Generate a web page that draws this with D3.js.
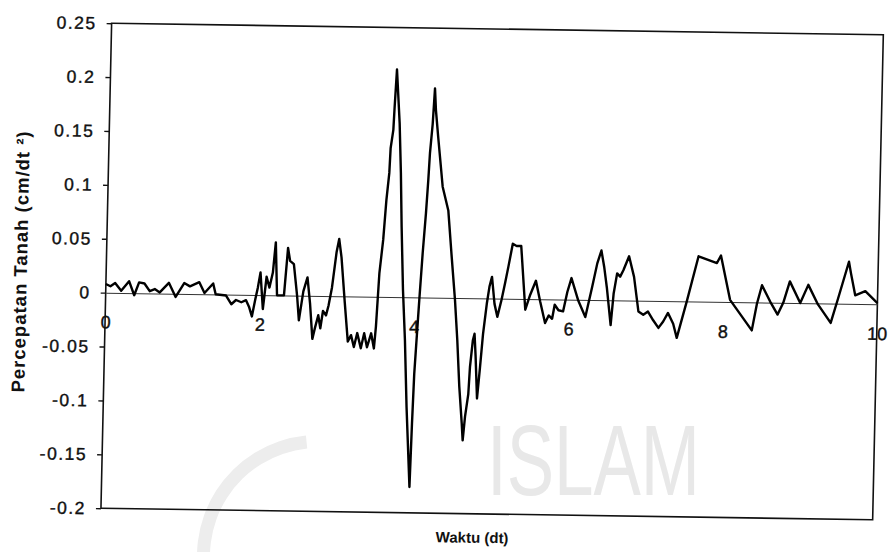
<!DOCTYPE html>
<html>
<head>
<meta charset="utf-8">
<script src="https://cdn.jsdelivr.net/npm/d3@7"></script>
<style>
  body { margin: 0; background: #fff; }
  svg { display: block; }
</style>
</head>
<body>
<svg id="chart" width="888" height="552"></svg>
<script>
// time (dt) and ground acceleration
const timeValues = [
  0, 0.06, 0.12, 0.20, 0.30, 0.37, 0.43, 0.50, 0.57, 0.635,
  0.70, 0.816, 0.907, 1.015, 1.09, 1.21, 1.28, 1.39, 1.425, 1.56,
  1.63, 1.69, 1.76, 1.82, 1.86, 1.90, 1.94, 1.97, 2.00, 2.04,
  2.08, 2.12, 2.16, 2.19, 2.22, 2.31, 2.35, 2.38, 2.43, 2.48,
  2.51, 2.56, 2.61, 2.65, 2.69, 2.72, 2.76, 2.79, 2.82, 2.86,
  2.89, 2.93, 2.98, 3.01, 3.045, 3.10, 3.15, 3.19, 3.23, 3.27,
  3.32, 3.36, 3.40, 3.45, 3.49, 3.51, 3.54, 3.58, 3.61, 3.64,
  3.65, 3.68, 3.69, 3.71, 3.76, 3.79, 3.815, 3.85, 3.89, 3.93,
  3.99, 4.005, 4.02, 4.04, 4.064, 4.095, 4.126, 4.147, 4.161, 4.188,
  4.208, 4.226, 4.263, 4.335, 4.415, 4.472, 4.527, 4.568, 4.607, 4.649,
  4.666, 4.69, 4.726, 4.74, 4.77, 4.79, 4.81, 4.84, 4.87, 4.90,
  4.94, 4.97, 5.00, 5.04, 5.08, 5.13, 5.17, 5.21, 5.26, 5.31,
  5.37, 5.44, 5.50, 5.57, 5.63, 5.70, 5.745, 5.79, 5.82, 5.87,
  5.93, 5.98, 6.03, 6.125, 6.22, 6.30, 6.36, 6.41, 6.45, 6.49,
  6.55, 6.58, 6.62, 6.66, 6.70, 6.77, 6.84, 6.906, 6.97, 7.03,
  7.10, 7.17, 7.23, 7.29, 7.36, 7.41, 7.53, 7.67, 7.91, 7.96,
  8.09, 8.38, 8.44, 8.50, 8.61, 8.71, 8.78, 8.86, 9.00, 9.10,
  9.23, 9.40, 9.49, 9.62, 9.65, 9.71, 9.84, 10.0
];
const accelValues = [
  0.008, 0.006, 0.009, 0.002, 0.011, -0.002, 0.010, 0.009, 0.002, 0.004,
  0.001, 0.010, -0.003, 0.010, 0.007, 0.011, 0.001, 0.010, 0.000, -0.001,
  -0.009, -0.005, -0.007, -0.005, -0.011, -0.020, -0.004, 0.007, 0.021, -0.013,
  0.017, 0.007, 0.021, 0.049, 0.000, 0.000, 0.044, 0.032, 0.029, 0.000,
  -0.023, 0.004, 0.017, -0.007, -0.040, -0.030, -0.018, -0.030, -0.014, -0.018,
  -0.009, 0.008, 0.041, 0.053, 0.036, -0.006, -0.042, -0.036, -0.047, -0.034,
  -0.048, -0.034, -0.047, -0.034, -0.048, -0.028, 0.022, 0.053, 0.090, 0.115,
  0.138, 0.155, 0.176, 0.211, 0.161, 0.115, 0.065, 0.007, -0.040, -0.102,
  -0.176, -0.117, -0.071, -0.040, -0.003, 0.041, 0.078, 0.109, 0.134, 0.161,
  0.194, 0.174, 0.149, 0.103, 0.081, 0.038, -0.002, -0.039, -0.082, -0.116,
  -0.132, -0.110, -0.089, -0.064, -0.039, -0.033, -0.054, -0.093, -0.064, -0.033,
  -0.005, 0.011, 0.020, -0.005, -0.017, -0.001, 0.014, 0.030, 0.051, 0.049,
  0.049, -0.010, 0.004, 0.017, -0.002, -0.022, -0.015, -0.018, -0.005, -0.010,
  -0.011, 0.007, 0.020, -0.001, -0.016, 0.012, 0.034, 0.046, 0.031, 0.012,
  -0.023, 0.006, 0.025, 0.022, 0.028, 0.041, 0.022, -0.010, -0.013, -0.010,
  -0.018, -0.025, -0.019, -0.011, -0.021, -0.034, 0.000, 0.042, 0.036, 0.043,
  0.002, -0.026, -0.001, 0.016, 0.001, -0.011, 0.000, 0.020, 0.000, 0.017,
  -0.001, -0.018, 0.005, 0.039, 0.028, 0.008, 0.012, 0.001
];
const yTickValues = [-0.2, -0.15, -0.1, -0.05, 0, 0.05, 0.1, 0.15, 0.2, 0.25];
const xTickValues = [0, 2, 4, 6, 8, 10];
const xTitle = "Waktu (dt)";
const yTitle = "Percepatan Tanah (cm/dt ²)";
const watermarkText = "ISLAM";

const plotLeft = 106.3, plotRight = 878, plotTop = 29, plotBottom = 514;
const font = "'Liberation Sans', Arial, sans-serif";

const svg = d3.select("#chart");

// faint watermark of the scanned page
const wm = svg.append("g").attr("fill", "#e8e8e8");
wm.append("text")
    .attr("x", 487)
    .attr("y", 495)
    .attr("font-family", font)
    .attr("font-size", 100)
    .attr("textLength", 213)
    .attr("lengthAdjust", "spacingAndGlyphs")
    .text(watermarkText);
wm.append("path")
    .attr("transform", "translate(318,556)")
    .attr("fill", "#ededed")
    .attr("d", d3.arc().innerRadius(108).outerRadius(121).startAngle(-1.9).endAngle(-0.1)());

// the scan is slightly skewed, so the whole chart gets the same skew
const g = svg.append("g")
    .attr("transform", "matrix(1,0.015,-0.022,1,5.96,-7.38)");

const xScale = d3.scaleLinear().domain([0, 10]).range([plotLeft, plotRight]);
const yScale = d3.scaleLinear().domain([-0.2, 0.25]).range([plotBottom, plotTop]);

g.append("rect")
    .attr("x", plotLeft)
    .attr("y", plotTop)
    .attr("width", plotRight - plotLeft)
    .attr("height", plotBottom - plotTop)
    .attr("fill", "none")
    .attr("stroke", "#111")
    .attr("stroke-width", 1.6);

const yAxis = d3.axisLeft(yScale)
    .tickValues(yTickValues)
    .tickSize(5)
    .tickPadding(10)
    .tickFormat(d => String(+d.toFixed(2)));

const yAxisG = g.append("g")
    .attr("transform", `translate(${plotLeft},0)`)
    .call(yAxis);
yAxisG.select(".domain").remove();
yAxisG.selectAll(".tick line").attr("stroke", "#111").attr("stroke-width", 1.4);
yAxisG.selectAll(".tick text")
    .attr("font-family", font)
    .attr("font-size", 17.5)
    .attr("letter-spacing", 1.5)
    .attr("fill", "#111")
    .attr("stroke", "#111")
    .attr("stroke-width", 0.4);

const xAxis = d3.axisBottom(xScale)
    .tickValues(xTickValues)
    .tickSize(0)
    .tickSizeOuter(0)
    .tickPadding(23)
    .tickFormat(d => String(d));

const xAxisG = g.append("g")
    .attr("transform", `translate(0,${yScale(0)})`)
    .call(xAxis);
xAxisG.select(".domain").attr("stroke", "#333").attr("stroke-width", 1);
xAxisG.selectAll(".tick text")
    .attr("font-family", font)
    .attr("font-size", 18)
    .attr("fill", "#111")
    .attr("stroke", "#111")
    .attr("stroke-width", 0.4);

const line = d3.line()
    .x((d, i) => xScale(timeValues[i]))
    .y(d => yScale(d));

g.append("path")
    .datum(accelValues)
    .attr("d", line)
    .attr("fill", "none")
    .attr("stroke", "#000")
    .attr("stroke-width", 2.4)
    .attr("stroke-linejoin", "round");

g.append("text")
    .attr("transform", "translate(27,269) rotate(-90)")
    .attr("text-anchor", "middle")
    .attr("font-family", font)
    .attr("font-weight", "bold")
    .attr("font-size", 18.5)
    .attr("textLength", 261)
    .attr("fill", "#111")
    .text(yTitle);

g.append("text")
    .attr("x", 478)
    .attr("y", 543)
    .attr("text-anchor", "middle")
    .attr("font-family", font)
    .attr("font-weight", "bold")
    .attr("font-size", 15)
    .attr("fill", "#111")
    .text(xTitle);
</script>
</body>
</html>
